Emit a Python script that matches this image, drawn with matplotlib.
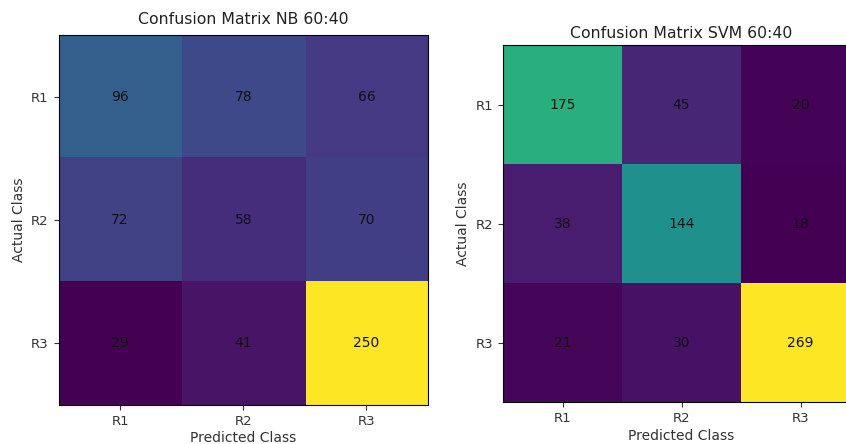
import matplotlib
matplotlib.use("Agg")
import matplotlib.pyplot as plt
import numpy as np

classes = ["R1", "R2", "R3"]
nb_matrix = [[96, 78, 66],
             [72, 58, 70],
             [29, 41, 250]]
svm_matrix = [[175, 45, 20],
              [38, 144, 18],
              [21, 30, 269]]
titles = ["Confusion Matrix NB 60:40", "Confusion Matrix SVM 60:40"]

W, H = 846, 444
fig = plt.figure(figsize=(W / 100, H / 100), dpi=100)

# axes positions in pixels: left, top, right, bottom
boxes = [(58.5, 35, 428, 405), (503, 45, 860, 402)]
title_pads = [8, 5]
xlabel_pads = [2, 3]

for mat, title, (l, t, r, b), tp, xp in zip([nb_matrix, svm_matrix], titles, boxes,
                                            title_pads, xlabel_pads):
    ax = fig.add_axes([l / W, 1 - b / H, (r - l) / W, (b - t) / H])
    m = np.array(mat)
    ax.imshow(m, cmap="viridis", aspect="auto", interpolation="nearest")
    for i in range(m.shape[0]):
        for j in range(m.shape[1]):
            ax.text(j, i, str(m[i, j]), ha="center", va="center", color="#111111", fontsize=10)
    ax.set_xticks(range(len(classes)))
    ax.set_yticks(range(len(classes)))
    ax.set_xticklabels(classes)
    ax.set_yticklabels(classes)
    ax.tick_params(labelsize=9.5, colors="#333333", labelcolor="#333333")
    ax.set_xlabel("Predicted Class", fontsize=10, color="#333333", labelpad=xp)
    ax.set_ylabel("Actual Class", fontsize=10, color="#333333")
    ax.set_title(title, fontsize=11.3, color="#222222", pad=tp)

fig.savefig("out.png", dpi=100)
